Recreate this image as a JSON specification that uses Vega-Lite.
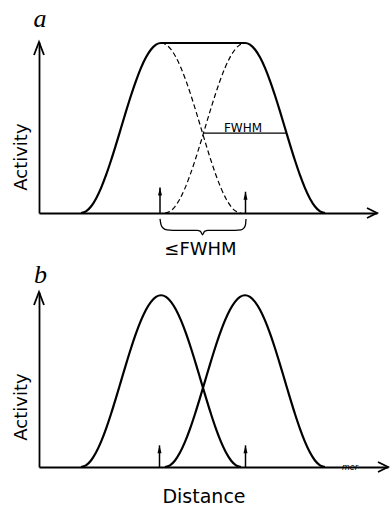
{
"$schema": "https://vega.github.io/schema/vega-lite/v6.json",
"background": "white",
"padding": {"left": 12, "top": 6, "right": 0, "bottom": 0},
"config": {"view": {"stroke": null}, "font": "DejaVu Sans"},
"bounds": "flush",
"spacing": 79,
"resolve": {"scale": {"x": "independent", "y": "independent"}},
"datasets": {
"curves": [
{"panel":"a","series":"env","x":42,"y":0},{"panel":"a","series":"env","x":47,"y":0.0096},{"panel":"a","series":"env","x":52,"y":0.0381},{"panel":"a","series":"env","x":57,"y":0.0843},{"panel":"a","series":"env","x":62,"y":0.1464},{"panel":"a","series":"env","x":67,"y":0.2222},{"panel":"a","series":"env","x":72,"y":0.3087},{"panel":"a","series":"env","x":77,"y":0.4024},{"panel":"a","series":"env","x":82,"y":0.5},{"panel":"a","series":"env","x":87,"y":0.5976},{"panel":"a","series":"env","x":92,"y":0.6913},{"panel":"a","series":"env","x":97,"y":0.7778},{"panel":"a","series":"env","x":102,"y":0.8536},{"panel":"a","series":"env","x":107,"y":0.9157},{"panel":"a","series":"env","x":112,"y":0.9619},{"panel":"a","series":"env","x":117,"y":0.9904},{"panel":"a","series":"env","x":122,"y":1},{"panel":"a","series":"env","x":206,"y":1},{"panel":"a","series":"env","x":211,"y":0.9904},{"panel":"a","series":"env","x":216,"y":0.9619},{"panel":"a","series":"env","x":221,"y":0.9157},{"panel":"a","series":"env","x":226,"y":0.8536},{"panel":"a","series":"env","x":231,"y":0.7778},{"panel":"a","series":"env","x":236,"y":0.6913},{"panel":"a","series":"env","x":241,"y":0.5976},{"panel":"a","series":"env","x":246,"y":0.5},{"panel":"a","series":"env","x":251,"y":0.4024},{"panel":"a","series":"env","x":256,"y":0.3087},{"panel":"a","series":"env","x":261,"y":0.2222},{"panel":"a","series":"env","x":266,"y":0.1464},{"panel":"a","series":"env","x":271,"y":0.0843},{"panel":"a","series":"env","x":276,"y":0.0381},{"panel":"a","series":"env","x":281,"y":0.0096},{"panel":"a","series":"env","x":286,"y":0},
{"panel":"a","series":"p1","x":122,"y":1},{"panel":"a","series":"p1","x":127,"y":0.9904},{"panel":"a","series":"p1","x":132,"y":0.9619},{"panel":"a","series":"p1","x":137,"y":0.9157},{"panel":"a","series":"p1","x":142,"y":0.8536},{"panel":"a","series":"p1","x":147,"y":0.7778},{"panel":"a","series":"p1","x":152,"y":0.6913},{"panel":"a","series":"p1","x":157,"y":0.5976},{"panel":"a","series":"p1","x":162,"y":0.5},{"panel":"a","series":"p1","x":167,"y":0.4024},{"panel":"a","series":"p1","x":172,"y":0.3087},{"panel":"a","series":"p1","x":177,"y":0.2222},{"panel":"a","series":"p1","x":182,"y":0.1464},{"panel":"a","series":"p1","x":187,"y":0.0843},{"panel":"a","series":"p1","x":192,"y":0.0381},{"panel":"a","series":"p1","x":197,"y":0.0096},{"panel":"a","series":"p1","x":202,"y":0},
{"panel":"a","series":"p2","x":126,"y":0},{"panel":"a","series":"p2","x":131,"y":0.0096},{"panel":"a","series":"p2","x":136,"y":0.0381},{"panel":"a","series":"p2","x":141,"y":0.0843},{"panel":"a","series":"p2","x":146,"y":0.1464},{"panel":"a","series":"p2","x":151,"y":0.2222},{"panel":"a","series":"p2","x":156,"y":0.3087},{"panel":"a","series":"p2","x":161,"y":0.4024},{"panel":"a","series":"p2","x":166,"y":0.5},{"panel":"a","series":"p2","x":171,"y":0.5976},{"panel":"a","series":"p2","x":176,"y":0.6913},{"panel":"a","series":"p2","x":181,"y":0.7778},{"panel":"a","series":"p2","x":186,"y":0.8536},{"panel":"a","series":"p2","x":191,"y":0.9157},{"panel":"a","series":"p2","x":196,"y":0.9619},{"panel":"a","series":"p2","x":201,"y":0.9904},{"panel":"a","series":"p2","x":206,"y":1},
{"panel":"a","series":"brace","x":121,"y":-0.035},{"panel":"a","series":"brace","x":122,"y":-0.068},{"panel":"a","series":"brace","x":124,"y":-0.088},{"panel":"a","series":"brace","x":128,"y":-0.099},{"panel":"a","series":"brace","x":140,"y":-0.102},{"panel":"a","series":"brace","x":158,"y":-0.102},{"panel":"a","series":"brace","x":161.5,"y":-0.108},{"panel":"a","series":"brace","x":163.5,"y":-0.128},{"panel":"a","series":"brace","x":165.5,"y":-0.108},{"panel":"a","series":"brace","x":169,"y":-0.102},{"panel":"a","series":"brace","x":190,"y":-0.102},{"panel":"a","series":"brace","x":202,"y":-0.099},{"panel":"a","series":"brace","x":205,"y":-0.088},{"panel":"a","series":"brace","x":206.5,"y":-0.068},{"panel":"a","series":"brace","x":207,"y":-0.035},
{"panel":"b","series":"p1","x":42,"y":0},{"panel":"b","series":"p1","x":47,"y":0.0096},{"panel":"b","series":"p1","x":52,"y":0.0381},{"panel":"b","series":"p1","x":57,"y":0.0843},{"panel":"b","series":"p1","x":62,"y":0.1464},{"panel":"b","series":"p1","x":67,"y":0.2222},{"panel":"b","series":"p1","x":72,"y":0.3087},{"panel":"b","series":"p1","x":77,"y":0.4024},{"panel":"b","series":"p1","x":82,"y":0.5},{"panel":"b","series":"p1","x":87,"y":0.5976},{"panel":"b","series":"p1","x":92,"y":0.6913},{"panel":"b","series":"p1","x":97,"y":0.7778},{"panel":"b","series":"p1","x":102,"y":0.8536},{"panel":"b","series":"p1","x":107,"y":0.9157},{"panel":"b","series":"p1","x":112,"y":0.9619},{"panel":"b","series":"p1","x":117,"y":0.9904},{"panel":"b","series":"p1","x":122,"y":1},{"panel":"b","series":"p1","x":127,"y":0.9904},{"panel":"b","series":"p1","x":132,"y":0.9619},{"panel":"b","series":"p1","x":137,"y":0.9157},{"panel":"b","series":"p1","x":142,"y":0.8536},{"panel":"b","series":"p1","x":147,"y":0.7778},{"panel":"b","series":"p1","x":152,"y":0.6913},{"panel":"b","series":"p1","x":157,"y":0.5976},{"panel":"b","series":"p1","x":162,"y":0.5},{"panel":"b","series":"p1","x":167,"y":0.4024},{"panel":"b","series":"p1","x":172,"y":0.3087},{"panel":"b","series":"p1","x":177,"y":0.2222},{"panel":"b","series":"p1","x":182,"y":0.1464},{"panel":"b","series":"p1","x":187,"y":0.0843},{"panel":"b","series":"p1","x":192,"y":0.0381},{"panel":"b","series":"p1","x":197,"y":0.0096},{"panel":"b","series":"p1","x":202,"y":0},
{"panel":"b","series":"p2","x":126,"y":0},{"panel":"b","series":"p2","x":131,"y":0.0096},{"panel":"b","series":"p2","x":136,"y":0.0381},{"panel":"b","series":"p2","x":141,"y":0.0843},{"panel":"b","series":"p2","x":146,"y":0.1464},{"panel":"b","series":"p2","x":151,"y":0.2222},{"panel":"b","series":"p2","x":156,"y":0.3087},{"panel":"b","series":"p2","x":161,"y":0.4024},{"panel":"b","series":"p2","x":166,"y":0.5},{"panel":"b","series":"p2","x":171,"y":0.5976},{"panel":"b","series":"p2","x":176,"y":0.6913},{"panel":"b","series":"p2","x":181,"y":0.7778},{"panel":"b","series":"p2","x":186,"y":0.8536},{"panel":"b","series":"p2","x":191,"y":0.9157},{"panel":"b","series":"p2","x":196,"y":0.9619},{"panel":"b","series":"p2","x":201,"y":0.9904},{"panel":"b","series":"p2","x":206,"y":1},{"panel":"b","series":"p2","x":211,"y":0.9904},{"panel":"b","series":"p2","x":216,"y":0.9619},{"panel":"b","series":"p2","x":221,"y":0.9157},{"panel":"b","series":"p2","x":226,"y":0.8536},{"panel":"b","series":"p2","x":231,"y":0.7778},{"panel":"b","series":"p2","x":236,"y":0.6913},{"panel":"b","series":"p2","x":241,"y":0.5976},{"panel":"b","series":"p2","x":246,"y":0.5},{"panel":"b","series":"p2","x":251,"y":0.4024},{"panel":"b","series":"p2","x":256,"y":0.3087},{"panel":"b","series":"p2","x":261,"y":0.2222},{"panel":"b","series":"p2","x":266,"y":0.1464},{"panel":"b","series":"p2","x":271,"y":0.0843},{"panel":"b","series":"p2","x":276,"y":0.0381},{"panel":"b","series":"p2","x":281,"y":0.0096},{"panel":"b","series":"p2","x":286,"y":0}
],
"peaks": [
{"panel":"a","x":121,"y":0.15},{"panel":"a","x":206.5,"y":0.125},
{"panel":"b","x":120.5,"y":0.126},{"panel":"b","x":206.5,"y":0.126}
],
"heads": [
{"panel":"a","dir":"x","x":338,"y":0},{"panel":"a","dir":"y","x":0,"y":1.006},
{"panel":"b","dir":"x","x":349,"y":0},{"panel":"b","dir":"y","x":0,"y":1.019}
],
"fwhm": [
{"panel":"a","x":164,"x2":248,"y":0.47}
],
"labels": [
{"panel":"a","role":"letter","text":"a","x":1,"y":1.094},
{"panel":"a","role":"axis","text":"Activity","x":-17.5,"y":0.329},
{"panel":"a","role":"small","text":"FWHM","x":204,"y":0.479},
{"panel":"a","role":"note","text":"≤FWHM","x":161.5,"y":-0.247},
{"panel":"b","role":"letter","text":"b","x":1.5,"y":1.07},
{"panel":"b","role":"axis","text":"Activity","x":-17.5,"y":0.349},
{"panel":"b","role":"unit","text":"mer","x":311,"y":-0.02},
{"panel":"b","role":"xtitle","text":"Distance","x":165,"y":-0.21}
]
},
"vconcat": [
{
"width": 338, "height": 171,
"encoding": {
"x": {"field":"x","type":"quantitative","title":null,"scale":{"domain":[0,338],"nice":false,"zero":false},"axis":{"domainColor":"black","domainWidth":1.8,"ticks":false,"labels":false,"grid":false}},
"y": {"field":"y","type":"quantitative","title":null,"scale":{"domain":[0,1.006],"nice":false,"zero":false},"axis":{"domainColor":"black","domainWidth":1.8,"ticks":false,"labels":false,"grid":false}}
},
"layer": [
{"data":{"name":"curves"},"transform":[{"filter":"datum.panel==='a' && datum.series==='env'"}],"mark":{"type":"line","color":"black","strokeWidth":2.2,"interpolate":"monotone"}},
{"data":{"name":"curves"},"transform":[{"filter":"datum.panel==='a' && (datum.series==='p1' || datum.series==='p2')"}],"mark":{"type":"line","color":"black","strokeWidth":1.2,"strokeDash":[5,3],"interpolate":"monotone"},"encoding":{"detail":{"field":"series"}}},
{"data":{"name":"curves"},"transform":[{"filter":"datum.panel==='a' && datum.series==='brace'"}],"mark":{"type":"line","color":"black","strokeWidth":1.3,"interpolate":"monotone"}},
{"data":{"name":"fwhm"},"transform":[{"filter":"datum.panel==='a'"}],"mark":{"type":"rule","color":"black","strokeWidth":1.4},"encoding":{"x2":{"field":"x2"}}},
{"data":{"name":"peaks"},"transform":[{"filter":"datum.panel==='a'"}],"mark":{"type":"rule","color":"black","strokeWidth":1.5},"encoding":{"y2":{"datum":0}}},
{"data":{"name":"peaks"},"transform":[{"filter":"datum.panel==='a'"}],"mark":{"type":"point","shape":"M0,0L0.8,3.2L-0.8,3.2Z","size":25,"filled":true,"color":"black","opacity":1}},
{"data":{"name":"heads"},"transform":[{"filter":"datum.panel==='a'"}],"mark":{"type":"point","filled":false,"color":"black","strokeWidth":1.8,"size":400,"opacity":1},"encoding":{"shape":{"field":"dir","type":"nominal","scale":{"domain":["x","y"],"range":["M-1,-0.5L0,0L-1,0.5","M-0.5,1.3L0,0L0.5,1.3"]},"legend":null}}},
{"data":{"name":"labels"},"transform":[{"filter":"datum.panel==='a' && datum.role==='letter'"}],"mark":{"type":"text","font":"Liberation Serif","fontStyle":"italic","fontSize":26,"align":"center","baseline":"alphabetic","color":"black"},"encoding":{"text":{"field":"text"}}},
{"data":{"name":"labels"},"transform":[{"filter":"datum.panel==='a' && datum.role==='axis'"}],"mark":{"type":"text","fontSize":18,"angle":270,"align":"center","baseline":"middle","color":"black"},"encoding":{"text":{"field":"text"}}},
{"data":{"name":"labels"},"transform":[{"filter":"datum.panel==='a' && datum.role==='small'"}],"mark":{"type":"text","fontSize":12,"align":"center","baseline":"alphabetic","color":"black"},"encoding":{"text":{"field":"text"}}},
{"data":{"name":"labels"},"transform":[{"filter":"datum.panel==='a' && datum.role==='note'"}],"mark":{"type":"text","fontSize":18,"align":"center","baseline":"alphabetic","color":"black"},"encoding":{"text":{"field":"text"}}}
]
},
{
"width": 349, "height": 175,
"encoding": {
"x": {"field":"x","type":"quantitative","title":null,"scale":{"domain":[0,349],"nice":false,"zero":false},"axis":{"domainColor":"black","domainWidth":1.8,"ticks":false,"labels":false,"grid":false}},
"y": {"field":"y","type":"quantitative","title":null,"scale":{"domain":[0,1.019],"nice":false,"zero":false},"axis":{"domainColor":"black","domainWidth":1.8,"ticks":false,"labels":false,"grid":false}}
},
"layer": [
{"data":{"name":"curves"},"transform":[{"filter":"datum.panel==='b'"}],"mark":{"type":"line","color":"black","strokeWidth":2.2,"interpolate":"monotone"},"encoding":{"detail":{"field":"series"}}},
{"data":{"name":"peaks"},"transform":[{"filter":"datum.panel==='b'"}],"mark":{"type":"rule","color":"black","strokeWidth":1.5},"encoding":{"y2":{"datum":0}}},
{"data":{"name":"peaks"},"transform":[{"filter":"datum.panel==='b'"}],"mark":{"type":"point","shape":"M0,0L0.8,3.2L-0.8,3.2Z","size":25,"filled":true,"color":"black","opacity":1}},
{"data":{"name":"heads"},"transform":[{"filter":"datum.panel==='b'"}],"mark":{"type":"point","filled":false,"color":"black","strokeWidth":1.8,"size":400,"opacity":1},"encoding":{"shape":{"field":"dir","type":"nominal","scale":{"domain":["x","y"],"range":["M-1.1,-0.5L0,0L-1.1,0.5","M-0.45,1.35L0,0L0.45,1.35"]},"legend":null}}},
{"data":{"name":"labels"},"transform":[{"filter":"datum.panel==='b' && datum.role==='letter'"}],"mark":{"type":"text","font":"Liberation Serif","fontStyle":"italic","fontSize":26,"align":"center","baseline":"alphabetic","color":"black"},"encoding":{"text":{"field":"text"}}},
{"data":{"name":"labels"},"transform":[{"filter":"datum.panel==='b' && datum.role==='axis'"}],"mark":{"type":"text","fontSize":18,"angle":270,"align":"center","baseline":"middle","color":"black"},"encoding":{"text":{"field":"text"}}},
{"data":{"name":"labels"},"transform":[{"filter":"datum.panel==='b' && datum.role==='unit'"}],"mark":{"type":"text","fontSize":8,"fontStyle":"italic","align":"center","baseline":"alphabetic","color":"black"},"encoding":{"text":{"field":"text"}}},
{"data":{"name":"labels"},"transform":[{"filter":"datum.panel==='b' && datum.role==='xtitle'"}],"mark":{"type":"text","fontSize":19,"align":"center","baseline":"alphabetic","color":"black"},"encoding":{"text":{"field":"text"}}}
]
}
]
}
